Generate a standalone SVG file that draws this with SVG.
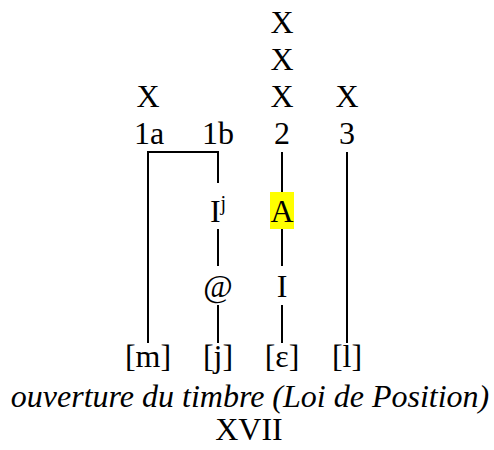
<svg xmlns="http://www.w3.org/2000/svg" width="494" height="450" viewBox="0 0 494 450">
<style>
text{font-family:"Liberation Serif","Times New Roman",serif;font-size:32px;fill:#000;text-anchor:middle}
.it{font-style:italic}
.ln{stroke:#000;stroke-width:2;fill:none}
</style>
<rect width="494" height="450" fill="#fff"/>
<g id="tier">
<text x="282" y="33">X</text>
<text x="282" y="70">X</text>
<text x="148" y="107">X</text>
<text x="282" y="107">X</text>
<text x="347" y="107">X</text>
</g>
<g id="n1a"><text x="149" y="144">1a</text></g>
<g id="n1b"><text x="218" y="144">1b</text></g>
<g id="n2"><text x="282" y="144">2</text></g>
<g id="n3"><text x="347" y="144">3</text></g>
<g id="nIj"><text x="218" y="222">I<tspan font-size="20" dy="-12">j</tspan></text></g>
<g id="nA"><rect x="270" y="192" width="24" height="37" fill="#ffff00"/><text x="282" y="222">A</text></g>
<g id="nAt"><text x="218" y="297">@</text></g>
<g id="nI"><text x="282" y="297">I</text></g>
<g id="nm"><text x="148" y="367">[m]</text></g>
<g id="nj"><text x="218" y="367">[j]</text></g>
<g id="ne"><text x="282" y="367">[ε]</text></g>
<g id="nl"><text x="347" y="367">[l]</text></g>
<g id="caption"><text class="it" x="250" y="407">ouverture du timbre (Loi de Position)</text>
<text x="249" y="440">XVII</text></g>
<g id="connectors">
<path class="ln" d="M148,343V152H218V183"/>
<path class="ln" d="M218,229V266M218,305V343"/>
<path class="ln" d="M282,152V192M282,229V266M282,305V343"/>
<path class="ln" d="M347,152V343"/>
</g>
</svg>
